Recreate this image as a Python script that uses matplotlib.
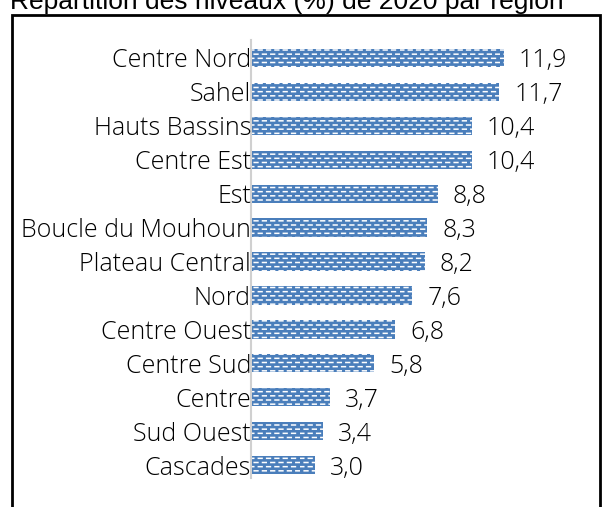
import warnings
import numpy as np
import matplotlib.pyplot as plt
import matplotlib.hatch as mhatch
from matplotlib.path import Path
from matplotlib.patches import Rectangle

warnings.filterwarnings('ignore')

# Données
regions = ['Centre Nord', 'Sahel', 'Hauts Bassins', 'Centre Est', 'Est',
           'Boucle du Mouhoun', 'Plateau Central', 'Nord', 'Centre Ouest',
           'Centre Sud', 'Centre', 'Sud Ouest', 'Cascades']
valeurs = [11.9, 11.7, 10.4, 10.4, 8.8, 8.3, 8.2, 7.6, 6.8, 5.8, 3.7, 3.4, 3.0]
titre = 'Répartition des niveaux (%) de 2020 par région'


# motif "tissé" : petits tirets blancs décalés d'une rangée à l'autre
class DashHatch(mhatch.HatchPatternBase):
    def __init__(self, hatch, density):
        self.ncol = hatch.count('d') * density
        self.nrow = 2 * self.ncol
        self.num_vertices = 2 * self.ncol * (self.nrow + 1) if self.ncol else 0

    def set_vertices_and_codes(self, vertices, codes):
        step = 1.0 / self.ncol
        k = 0
        for r in range(self.nrow + 1):
            y = r / self.nrow
            off = (r % 2) * step / 2
            for c in range(self.ncol):
                x0 = c * step + off
                vertices[k] = (x0, y)
                vertices[k + 1] = (x0 + step * 0.45, y)
                codes[k] = Path.MOVETO
                codes[k + 1] = Path.LINETO
                k += 2


mhatch._hatch_types.append(DashHatch)

W, H = 616, 507
fig = plt.figure(figsize=(W / 100, H / 100), dpi=100)
ax = fig.add_axes([251 / W, 1 - 478 / H, 346 / W, 438 / H])

plt.rcParams['hatch.linewidth'] = 1.1
pos = list(range(len(regions)))
ax.barh(pos, valeurs, height=0.54, color='#4a7ebb', edgecolor='white',
        linewidth=0, hatch='dd', zorder=0.5)

ax.set_xlim(0, 16.3)
ax.set_ylim(12.38, -0.53)
ax.set_yticks([])
ax.set_xticks([])
for s in ['top', 'right', 'bottom']:
    ax.spines[s].set_visible(False)
ax.spines['left'].set_color('#d0d0d0')
ax.spines['left'].set_linewidth(1.5)
ax.spines['left'].set_zorder(0.8)

# étiquettes des régions (au-dessus des barres)
for p, r in zip(pos, regions):
    ax.text(0.0, p, r, va='center_baseline', ha='right', fontsize=18,
            family='Open Sans', weight='light', color='black',
            zorder=5, clip_on=False)

for p, v in zip(pos, valeurs):
    ax.text(v + 0.7, p, f'{v:.1f}'.replace('.', ','), va='center_baseline',
            ha='left', fontsize=18, family='Open Sans', weight='light',
            color='black')

# Cadre
fig.patches.append(Rectangle((12 / W, -0.02), 588 / W, 1 - 15 / H + 0.02,
                             transform=fig.transFigure, fill=False,
                             edgecolor='black', linewidth=2))
fig.text(10 / W, 1 - 9 / H, titre, fontsize=19, family='Liberation Sans',
         va='baseline', ha='left')

fig.savefig('out.png', dpi=100)
